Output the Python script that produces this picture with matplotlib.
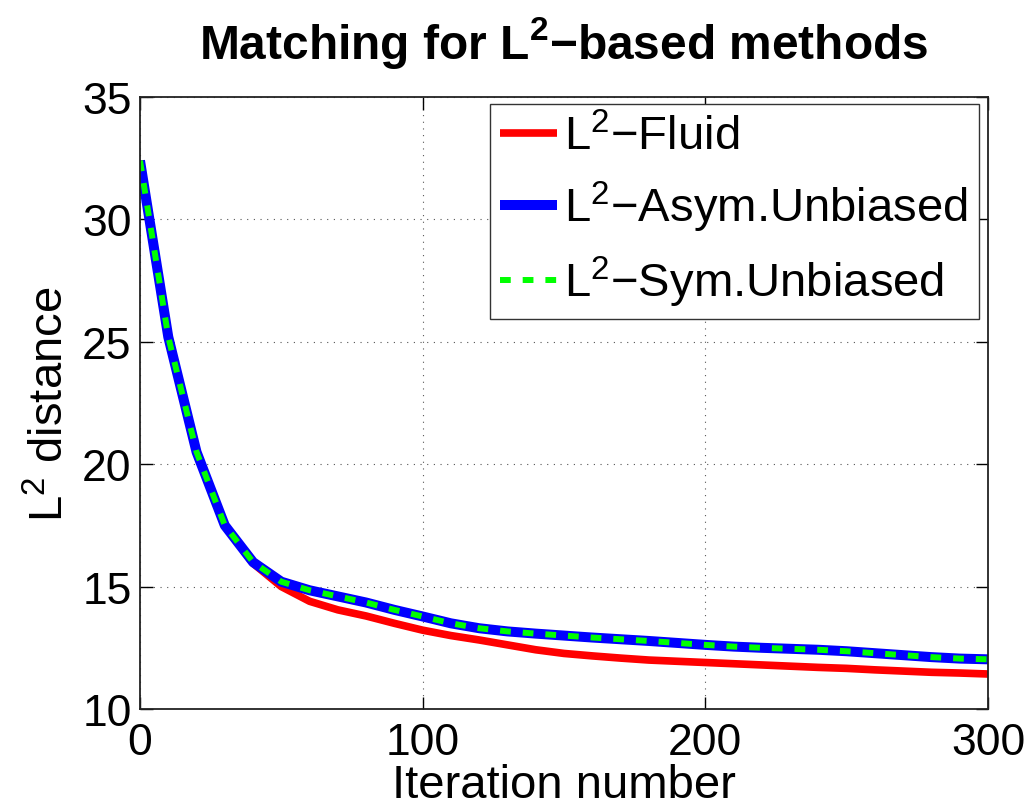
import numpy as np
import matplotlib
matplotlib.use('Agg')
import matplotlib.pyplot as plt

plt.rcParams['font.family'] = ['Liberation Sans', 'DejaVu Sans']
plt.rcParams['mathtext.default'] = 'regular'

iters = np.arange(0, 301, 10)

fluid = [32.4, 25.2, 20.5, 17.5, 15.95, 15.0, 14.4, 14.05, 13.8, 13.5, 13.22,
         13.0, 12.82, 12.62, 12.42, 12.27, 12.17, 12.08, 12.0, 11.95, 11.9,
         11.85, 11.8, 11.75, 11.7, 11.66, 11.6, 11.55, 11.5, 11.47, 11.43]
asym = [32.4, 25.2, 20.5, 17.5, 16.0, 15.2, 14.85, 14.6, 14.35, 14.05, 13.78,
        13.5, 13.3, 13.17, 13.08, 13.0, 12.92, 12.85, 12.78, 12.7, 12.62,
        12.55, 12.5, 12.46, 12.42, 12.36, 12.28, 12.2, 12.12, 12.06, 12.03]
sym = list(asym)

labels = ['L$^{2}$\u2212Fluid', 'L$^{2}$\u2212Asym.Unbiased', 'L$^{2}$\u2212Sym.Unbiased']

fig = plt.figure(figsize=(10.34, 8.12), dpi=100)
ax = fig.add_axes([0.1354, 0.1256, 0.8201, 0.7537])

ax.plot(iters, fluid, color='#ff0000', lw=5.5, label=labels[0], solid_capstyle='butt')
ax.plot(iters, asym, color='#0000ff', lw=7.2, label=labels[1], solid_capstyle='butt')
ax.plot(iters, sym, color='#00ff00', lw=4.3, ls=(0, (1.8, 2.0)), label=labels[2])

ax.set_xlim(0, 300)
ax.set_ylim(10, 35)
ax.set_xticks([0, 100, 200, 300])
ax.set_yticks([10, 15, 20, 25, 30, 35])
ax.tick_params(direction='in', labelsize=32, length=9, width=1, top=True, right=True)
ax.tick_params(axis='x', pad=9)
ax.tick_params(axis='y', pad=6)
ax.grid(True, ls=(0, (1, 5)), color='#555555', lw=0.8)
for s in ax.spines.values():
    s.set_linewidth(1.3)
    s.set_color('#222222')

ax.set_xlabel('Iteration number', fontsize=34, labelpad=0)
ax.set_ylabel('L$^{2}$ distance', fontsize=34, labelpad=6)
ax.set_title('Matching for L$^{2}$\u2212based methods', fontsize=34.5, fontweight='bold', pad=28)

leg = ax.legend(loc='upper right', bbox_to_anchor=(0.989, 0.989), fontsize=34,
                fancybox=False, edgecolor='#333333', framealpha=1,
                handlelength=1.2, handletextpad=0.16, labelspacing=0.42,
                borderaxespad=0, borderpad=0.22)
leg.get_frame().set_linewidth(1.0)

fig.savefig('out.png', dpi=100)
